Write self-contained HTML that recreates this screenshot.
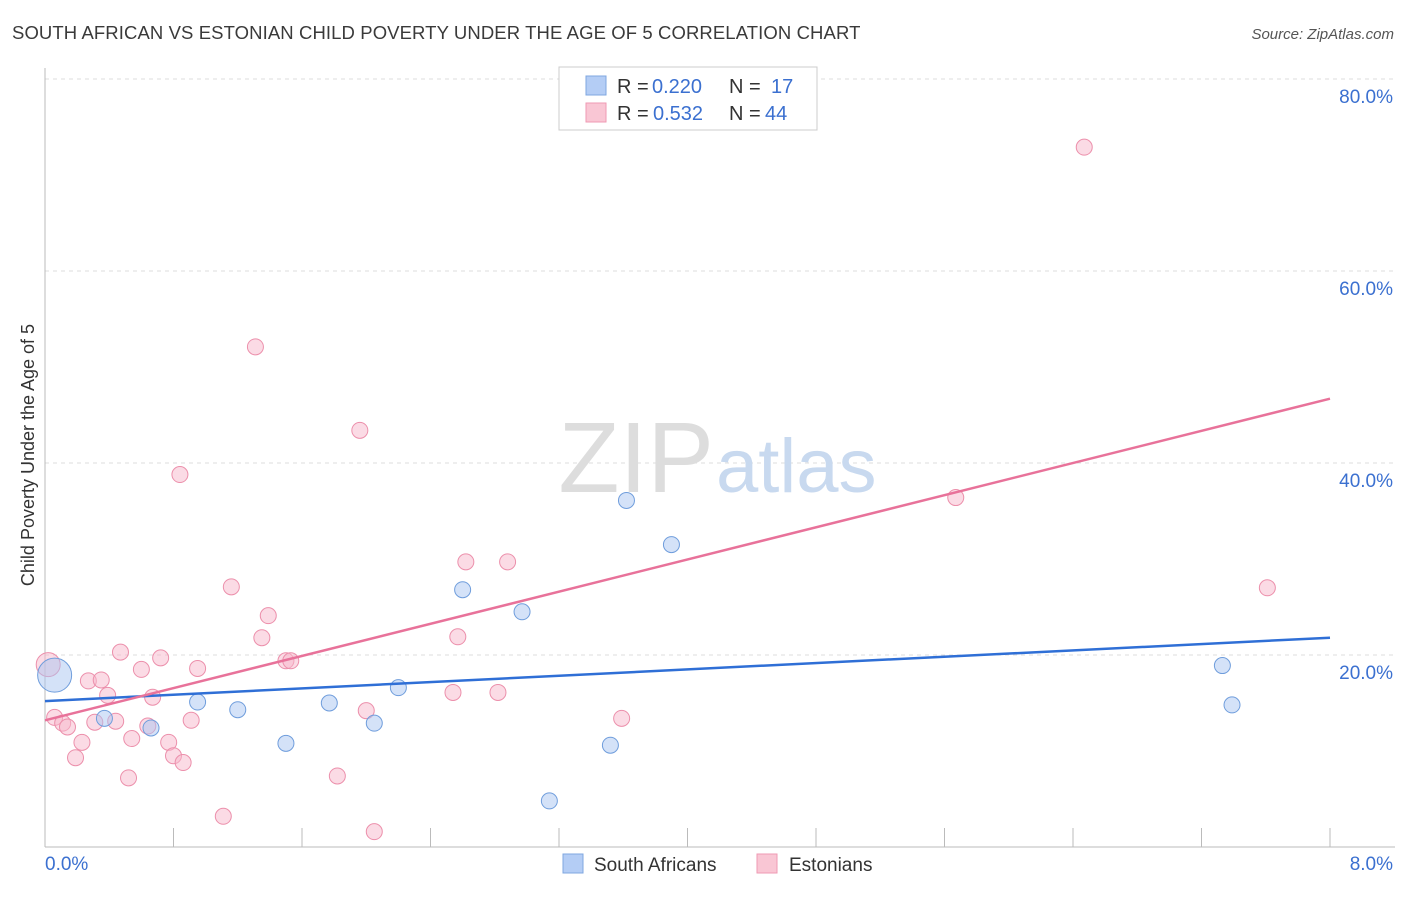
<!DOCTYPE html>
<html><head><meta charset="utf-8"><style>
body{margin:0;background:#fff;font-family:"Liberation Sans",sans-serif}
svg text{font-family:"Liberation Sans",sans-serif}
</style></head><body>
<svg width="1406" height="892" viewBox="0 0 1406 892">
<text x="12" y="39" font-size="18.5" letter-spacing="0.1" fill="#3a3a3a">SOUTH AFRICAN VS ESTONIAN CHILD POVERTY UNDER THE AGE OF 5 CORRELATION CHART</text>
<text x="1394" y="39" font-size="15" fill="#555" font-style="italic" text-anchor="end">Source: ZipAtlas.com</text>
<g id="grid"></g>
<text x="714" y="492" font-size="100" fill="#ddd" text-anchor="end" font-family="Liberation Serif">ZIP</text>
<text x="716" y="492" font-size="76" fill="#c8d9ef">atlas</text>
<text transform="translate(34,455) rotate(-90)" font-size="18" fill="#333" text-anchor="middle">Child Poverty Under the Age of 5</text>
<g id="marks"></g>
<g>
<rect x="559" y="67" width="258" height="63" fill="#fff" stroke="#ccc"/>
<rect x="586" y="76" width="20" height="19" fill="#b4cdf5" stroke="#7fa7e0"/>
<rect x="586" y="103" width="20" height="19" fill="#f9c6d4" stroke="#ef9ab3"/>
<text x="617" y="93" font-size="20" fill="#333">R =</text>
<text x="652" y="93" font-size="20" fill="#3b70d0">0.220</text>
<text x="729" y="93" font-size="20" fill="#333">N =</text>
<text x="771" y="93" font-size="20" fill="#3b70d0">17</text>
<text x="617" y="120" font-size="20" fill="#333">R =</text>
<text x="653" y="120" font-size="20" fill="#3b70d0">0.532</text>
<text x="729" y="120" font-size="20" fill="#333">N =</text>
<text x="765" y="120" font-size="20" fill="#3b70d0">44</text>
</g>
<g>
<rect x="563" y="854" width="20" height="19" fill="#b4cdf5" stroke="#7fa7e0"/>
<text x="594" y="871" font-size="19" fill="#333">South Africans</text>
<rect x="757" y="854" width="20" height="19" fill="#f9c6d4" stroke="#ef9ab3"/>
<text x="789" y="871" font-size="19" fill="#333">Estonians</text>
</g>
</svg>
<script>
const yTicks=[20,40,60,80];
const xTickLabels=["0.0%","8.0%"];
const blueX=[0.06,0.37,0.66,0.95,1.20,1.50,1.77,2.05,2.20,2.60,2.97,3.14,3.52,3.62,3.90,7.33,7.39];
const blueY=[17.9,13.4,12.4,15.1,14.3,10.8,15.0,12.9,16.6,26.8,24.5,4.8,10.6,36.1,31.5,18.9,14.8];
const pinkX=[0.02,0.06,0.11,0.14,0.19,0.23,0.27,0.35,0.39,0.31,0.44,0.47,0.52,0.54,0.60,0.64,0.67,0.72,0.77,0.80,0.86,0.84,0.91,0.95,1.11,1.16,1.31,1.35,1.39,1.50,1.53,1.82,1.96,2.00,2.05,2.54,2.57,2.62,2.82,2.88,3.59,5.67,6.47,7.61];
const pinkY=[19.0,13.5,12.9,12.5,9.3,10.9,17.3,17.4,15.8,13.0,13.1,20.3,7.2,11.3,18.5,12.6,15.6,19.7,10.9,9.5,8.8,38.8,13.2,18.6,3.2,27.1,52.1,21.8,24.1,19.4,19.4,7.4,43.4,14.2,1.6,16.1,21.9,29.7,16.1,29.7,13.4,36.4,72.9,27.0];
const blueTrend=[15.2,21.8];
const pinkTrend=[13.2,46.7];
const NS="http://www.w3.org/2000/svg";
const sx=v=>45+v*160.625, sy=v=>847-v*9.6;
function mk(t,a,p){const e=document.createElementNS(NS,t);for(const k in a)e.setAttribute(k,a[k]);p.appendChild(e);return e;}
const g=document.getElementById('grid'), m=document.getElementById('marks');
mk('line',{x1:45,y1:79,x2:1395,y2:79,stroke:'#ddd','stroke-dasharray':'4,4'},g);
yTicks.forEach(t=>{
 const l=mk('line',{x1:45,y1:sy(t),x2:1395,y2:sy(t),stroke:'#ddd','stroke-dasharray':'4,4'},g);
 
 
 const tx=mk('text',{x:1393,y:sy(t)+24,'font-size':19,fill:'#3b70d0','text-anchor':'end'},g);tx.textContent=t.toFixed(1)+'%';
 
 
});
mk('line',{x1:45,y1:68,x2:45,y2:847,stroke:'#bbb'},g);
mk('line',{x1:45,y1:847,x2:1395,y2:847,stroke:'#bbb'},g);
for(let i=1;i<=10;i++){mk('line',{x1:sx(i*0.8),y1:828,x2:sx(i*0.8),y2:847,stroke:'#bbb'},g);}
[[0,'start',45],[8,'end',1393]].forEach((d,i)=>{const t=mk('text',{x:d[2],y:870,'font-size':19,fill:'#3b70d0','text-anchor':d[1]},g);t.textContent=xTickLabels[i];
 
 });
function pts(X,Y,fill,stroke,name,bigR){X.forEach((x,i)=>{const c=mk('circle',{cx:sx(x),cy:sy(Y[i]),r:i===0?bigR:8,fill:fill,stroke:stroke,'stroke-width':1,'fill-opacity':0.5},m);
 
 });}
pts(pinkX,pinkY,'#f7b8cb','#ec8fab','estonian',12);
pts(blueX,blueY,'#a9c6f2','#6f9ddc','south-african',17);
const bl=mk('line',{x1:sx(0),y1:sy(blueTrend[0]),x2:sx(8),y2:sy(blueTrend[1]),stroke:'#2f6fd6','stroke-width':2.5},m);


const pl=mk('line',{x1:sx(0),y1:sy(pinkTrend[0]),x2:sx(8),y2:sy(pinkTrend[1]),stroke:'#e8729a','stroke-width':2.5},m);


</script>
</body></html>
